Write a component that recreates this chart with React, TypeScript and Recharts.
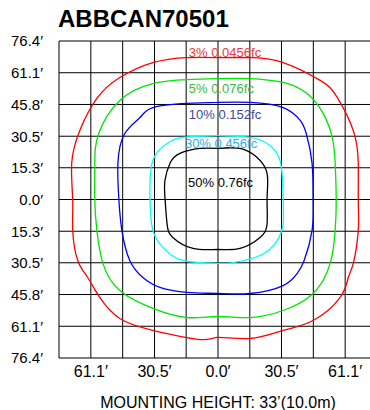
import React from 'react';
import { LineChart, Line, XAxis, YAxis, CartesianGrid, ReferenceDot, Label } from 'recharts';

const title = 'ABBCAN70501';
const footer = 'MOUNTING HEIGHT: 33’(10.0m)';

// grid / tick values in feet
const gridTicks = [-76.4, -61.1, -45.8, -30.5, -15.3, 0, 15.3, 30.5, 45.8, 61.1, 76.4];
const xLabeledTicks = [-61.1, -30.5, 0, 30.5, 61.1];

// iso-footcandle contours, points in feet [x, y]
const contour3: [number, number][] = [
  [0, 68.4], [16.8, 68.4], [31.3, 66.0], [49.1, 57.4], [57.3, 49.2], [65.0, 33.3], [67.4, 17.4],
  [67.4, -0.5], [67.4, -14.9], [65.0, -30.8], [62.6, -37.6], [58.7, -47.2], [45.7, -58.3],
  [31.3, -63.1], [15.4, -67.0], [0, -66.5], [-8.7, -67.5], [-31.3, -63.1], [-47.2, -57.4],
  [-56.8, -47.2], [-62.6, -37.6], [-67.4, -29.4], [-69.8, -14.9], [-69.8, -0.5], [-70.3, 17.4],
  [-66.4, 33.3], [-58.2, 48.7], [-47.2, 58.8], [-31.3, 66.0], [-14.9, 68.4], [0, 68.4],
];
const contour5: [number, number][] = [
  [0, 58.3], [15.4, 58.3], [31.3, 56.4], [42.8, 51.1], [50.5, 41.5], [54.9, 29.9], [56.3, 17.4],
  [56.8, -0.5], [56.3, -14.9], [53.9, -30.8], [45.7, -45.3], [31.3, -53.5], [15.4, -56.9],
  [0, -56.4], [-14.9, -56.9], [-31.3, -52.5], [-47.2, -43.9], [-55.3, -30.8], [-58.2, -14.9],
  [-59.2, -0.5], [-59.2, 17.4], [-57.3, 31.8], [-47.2, 47.7], [-31.3, 55.9], [-14.9, 57.8], [0, 58.3],
];
const contour10: [number, number][] = [
  [0, 46.8], [15.4, 46.8], [31.3, 44.3], [39.5, 38.1], [42.4, 31.8], [45.2, 17.4], [45.7, -0.5],
  [45.2, -14.9], [41.4, -29.4], [38.0, -35.7], [31.3, -41.5], [15.4, -45.3], [0, -45.3],
  [-14.9, -44.8], [-27.9, -42.4], [-36.1, -37.6], [-42.4, -29.4], [-46.2, -14.9], [-47.6, -0.5],
  [-48.1, 17.4], [-44.8, 31.8], [-37.5, 39.5], [-31.3, 44.3], [-14.9, 46.3], [0, 46.8],
];
const contour30: [number, number][] = [
  [0, 30.8], [15.4, 29.9], [23.6, 27.0], [29.8, 18.8], [31.3, 1.0], [31.3, -11.6], [28.4, -19.8],
  [20.2, -27.0], [7.2, -30.4], [0, -30.8], [-16.8, -29.4], [-26.5, -23.1], [-31.3, -14.9],
  [-32.7, 1.0], [-31.3, 18.8], [-24.5, 27.0], [-16.8, 29.9], [0, 30.8],
];
const contour50: [number, number][] = [
  [0, 24.6], [10.6, 24.6], [18.8, 20.2], [23.6, 12.5], [23.6, 1.0], [23.6, -11.6], [20.2, -18.3],
  [10.6, -23.6], [0, -24.1], [-12.0, -23.6], [-21.7, -18.3], [-24.5, -11.6], [-25.5, 1.0],
  [-25.5, 9.2], [-23.1, 17.4], [-18.3, 22.2], [-8.7, 24.6], [0, 24.6],
];

const contourLabels = ['3% 0.0456fc', '5% 0.076fc', '10% 0.152fc', '30% 0.456fc', '50% 0.76fc'];
const contourData = [contour3, contour5, contour10, contour30, contour50];

const FONT = '"Liberation Sans", Arial, Helvetica, sans-serif';
const lineColors = ['#ff0000', '#00e600', '#0000ff', '#00ffff', '#000000'];
const labelColors = ['#e63c3c', '#3cb83c', '#3a4a9c', '#30aee6', '#000000'];
const labelAnchors: [number, number][] = [
  [-14.0, 70.9], [-14.0, 53.5], [-14.0, 41.0], [-15.9, 27.1], [-14.4, 8.3],
];

const fmt = (v: number) => Math.abs(v).toFixed(1) + '′';

export default function App() {
  return (
    <div style={{ position: 'relative', width: 370, height: 410, overflow: 'hidden', fontFamily: FONT, background: '#fff' }}>
      <style>{'html,body{margin:0;padding:0;overflow:hidden;}'}</style>
      <div
        style={{
          position: 'absolute', left: 58, top: 7, fontSize: 24, fontWeight: 'bold', lineHeight: 1,
          fontFamily: FONT, color: '#000', whiteSpace: 'nowrap',
        }}
      >
        {title}
      </div>
      <LineChart width={380} height={410} margin={{ top: 41, right: 3, bottom: 0, left: 0 }}>
        <CartesianGrid stroke="#000" strokeWidth={1} />
        <XAxis
          type="number"
          dataKey="x"
          domain={[-76.4, 76.4]}
          ticks={gridTicks}
          interval={0}
          allowDataOverflow
          height={52}
          axisLine={false}
          tickLine={false}
          tickSize={0}
          tickMargin={8}
          tick={{ fill: '#000', fontSize: 16, fontFamily: FONT }}
          tickFormatter={(v: number) => (xLabeledTicks.includes(v) ? fmt(v) : '')}
        >
          <Label value={footer} position="insideBottom" offset={2} fill="#000" fontSize={16} fontFamily={FONT} />
        </XAxis>
        <YAxis
          type="number"
          dataKey="y"
          domain={[-76.4, 76.4]}
          ticks={gridTicks}
          interval={0}
          allowDataOverflow
          width={59}
          axisLine={false}
          tickLine={false}
          tickSize={0}
          tickMargin={16}
          tick={{ fill: '#000', fontSize: 15, fontFamily: FONT }}
          tickFormatter={(v: number) => fmt(v)}
        />
        {contourData.map((pts, i) => (
          <Line
            key={contourLabels[i]}
            data={pts.map(([x, y]) => ({ x, y }))}
            dataKey="y"
            type="natural"
            stroke={lineColors[i]}
            strokeWidth={1.3}
            dot={false}
            activeDot={false}
            isAnimationActive={false}
          />
        ))}
        {contourLabels.map((txt, i) => (
          <ReferenceDot
            key={'lbl' + i}
            x={labelAnchors[i][0]}
            y={labelAnchors[i][1]}
            r={0}
            fill="none"
            stroke="none"
            ifOverflow="visible"
            label={{ value: txt, position: 'right', offset: 0, fill: labelColors[i], fontSize: 13, fontFamily: FONT }}
          />
        ))}
      </LineChart>
    </div>
  );
}
